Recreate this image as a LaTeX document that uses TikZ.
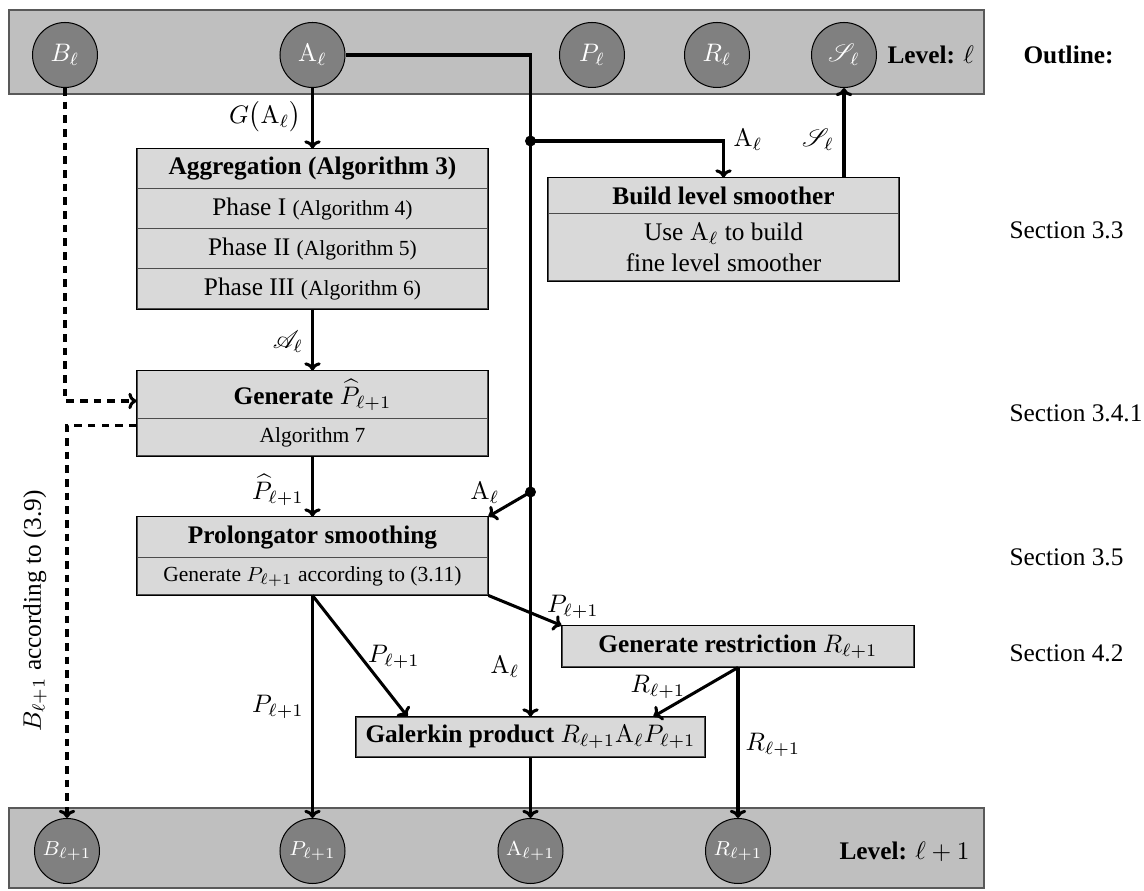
\documentclass[tikz,border=0pt]{standalone}
\usepackage[no-math]{fontspec}
\setmainfont{Liberation Serif}
\usepackage{mathrsfs}
\usetikzlibrary{arrows.meta}

% one drawing unit
\newcommand\pxu{0.395pt}
\newcommand\smalltext{\fontsize{8.5}{10}\selectfont}

\tikzset{
  band/.style={fill=black!25, draw=black!65, line width=0.6pt},
  lvl/.style={circle, fill=black!50, draw=black, line width=0.4pt,
    minimum size={65*\pxu}, inner sep=0pt, text=white},
  row/.style={fill=black!15, draw=black!70, line width=0.4pt,
    inner sep=0pt, minimum width={351*\pxu}},
  frame/.style={draw=black, line width=0.6pt},
  conn/.style={line width=1.2pt, -{To[length=3.2pt,width=6.5pt]}},
  dconn/.style={conn, dash pattern=on 3pt off 2.4pt},
  lab/.style={inner sep=0pt},
  plain/.style={inner sep=0pt, anchor=west},
  junction/.style={circle, fill=black, inner sep=0pt, minimum size={11*\pxu}},
}

\begin{document}
\begin{tikzpicture}[x=0.395pt, y=-0.395pt]
\useasboundingbox (0,0) rectangle (1144,891);

% level bands
\draw[band] (9,10) rectangle (984,94);
\draw[band] (9,808) rectangle (984,888);

% fine level objects
\node[lvl] (Bl) at (65,55) {$B_\ell$};
\node[lvl] (Al) at (312.5,55) {$\mathrm{A}_\ell$};
\node[lvl] (Pl) at (592,55) {$P_\ell$};
\node[lvl] (Rl) at (717,55) {$R_\ell$};
\node[lvl] (Sl) at (844,55) {$\mathscr{S}_\ell$};
\node[plain] (lvtop) at (887,55) {\textbf{Level:} $\ell$};
\node[plain] (outline) at (1023,55) {\textbf{Outline:}};

% coarse level objects
\node[lvl, font=\footnotesize] (Bn) at (67,851) {$B_{\ell+1}$};
\node[lvl, font=\footnotesize] (Pn) at (312.5,851) {$P_{\ell+1}$};
\node[lvl, font=\footnotesize] (An) at (530.5,851) {$\mathrm{A}_{\ell+1}$};
\node[lvl, font=\footnotesize] (Rn) at (738,851) {$R_{\ell+1}$};
\node[plain] (lvbot) at (839,852) {\textbf{Level:} $\ell+1$};

% aggregation
\node[row, minimum height={40*\pxu}, font=\bfseries] (agg) at (312.5,169) {Aggregation (Algorithm 3)};
\node[row, minimum height={40*\pxu}] (ph1) at (312.5,209) {Phase I {\smalltext(Algorithm 4)}};
\node[row, minimum height={40*\pxu}] (ph2) at (312.5,249) {Phase II {\smalltext(Algorithm 5)}};
\node[row, minimum height={40*\pxu}] (ph3) at (312.5,289) {Phase III {\smalltext(Algorithm 6)}};
\draw[frame] (agg.north west) rectangle (ph3.south east);

% tentative prolongator
\node[row, minimum height={48*\pxu}, font=\bfseries] (gen) at (312.5,395) {Generate $\widehat{P}_{\ell+1}$};
\node[row, minimum height={37*\pxu}, font=\smalltext] (gen2) at (312.5,437.5) {Algorithm 7};
\draw[frame] (gen.north west) rectangle (gen2.south east);

% prolongator smoothing
\node[row, minimum height={41*\pxu}, font=\bfseries] (pro) at (312.5,537.5) {Prolongator smoothing};
\node[row, minimum height={37*\pxu}, font=\smalltext] (pro2) at (312.5,576.5) {Generate $P_{\ell+1}$ according to (3.11)};
\draw[frame] (pro.north west) rectangle (pro2.south east);

% smoother
\node[row, minimum height={36*\pxu}, font=\bfseries] (bld) at (723.5,196) {Build level smoother};
\node[row, minimum height={67*\pxu}, align=center] (bld2) at (723.5,247.5) {Use $\mathrm{A}_\ell$ to build\\fine level smoother};
\draw[frame] (bld.north west) rectangle (bld2.south east);

% restriction and Galerkin product
\node[row, minimum width={352*\pxu}, minimum height={41*\pxu}, font=\bfseries] (rst) at (738,646.5) {Generate restriction $R_{\ell+1}$};
\draw[frame] (rst.north west) rectangle (rst.south east);
\node[row, minimum width={349*\pxu}, minimum height={40*\pxu}, font=\bfseries] (gal) at (530.5,737) {Galerkin product $R_{\ell+1}\mathrm{A}_\ell P_{\ell+1}$};
\draw[frame] (gal.north west) rectangle (gal.south east);

% section references
\node[plain] (s33) at (1009,230) {Section 3.3};
\node[plain] (s341) at (1009,413) {Section 3.4.1};
\node[plain] (s35) at (1009,557) {Section 3.5};
\node[plain] (s42) at (1009,653) {Section 4.2};

% branch points on the operator line
\coordinate (d1) at (530.5,141);
\coordinate (d2) at (530.5,492);

% connectors
\draw[conn] (Al.south) -- (agg.north);
\draw[conn] (Al.east) -| (gal.north);
\draw[conn] (d1) -| (bld.north);
\draw[conn] (bld.north -| Sl) -- (Sl.south);
\draw[conn] (ph3.south) -- (gen.north);
\draw[conn] (gen2.south) -- (pro.north);
\draw[conn] (d2) -- (pro.north east);
\draw[conn] (pro2.south) -- (Pn.north);
\draw[conn] (pro2.south) -- ([xshift={52*\pxu}]gal.north west);
\draw[conn] (pro2.south east) -- (rst.north west);
\draw[conn] (rst.south) -- (Rn.north);
\draw[conn] (rst.south) -- ([xshift={-52*\pxu}]gal.north east);
\draw[conn] (gal.south) -- (An.north);
\draw[dconn] (Bl.south) |- ([yshift={-6*\pxu}]gen.west);
\draw[dconn] ([yshift={-7*\pxu}]gen2.north west) -| (Bn.north);
\node[junction] (j1) at (d1) {};
\node[junction] (j2) at (d2) {};

% connector labels
\node[lab] (lG) at (265,117) {$G\bigl(\mathrm{A}_\ell\bigr)$};
\node[lab] (lA1) at (748,140) {$\mathrm{A}_\ell$};
\node[lab] (lS) at (818,140) {$\mathscr{S}_\ell$};
\node[lab] (lAg) at (288,342) {$\mathscr{A}_\ell$};
\node[lab] (lPh) at (278,490) {$\widehat{P}_{\ell+1}$};
\node[lab] (lA2) at (485,493) {$\mathrm{A}_\ell$};
\node[lab] (lP1) at (278,707) {$P_{\ell+1}$};
\node[lab] (lP2) at (394,657) {$P_{\ell+1}$};
\node[lab] (lA3) at (505,667) {$\mathrm{A}_\ell$};
\node[lab] (lP3) at (573,607) {$P_{\ell+1}$};
\node[lab] (lR1) at (658,687) {$R_{\ell+1}$};
\node[lab] (lR2) at (773,745) {$R_{\ell+1}$};
\node[lab, rotate=90] (lB) at (35,611) {$B_{\ell+1}$ according to (3.9)};
\end{tikzpicture}
\end{document}
